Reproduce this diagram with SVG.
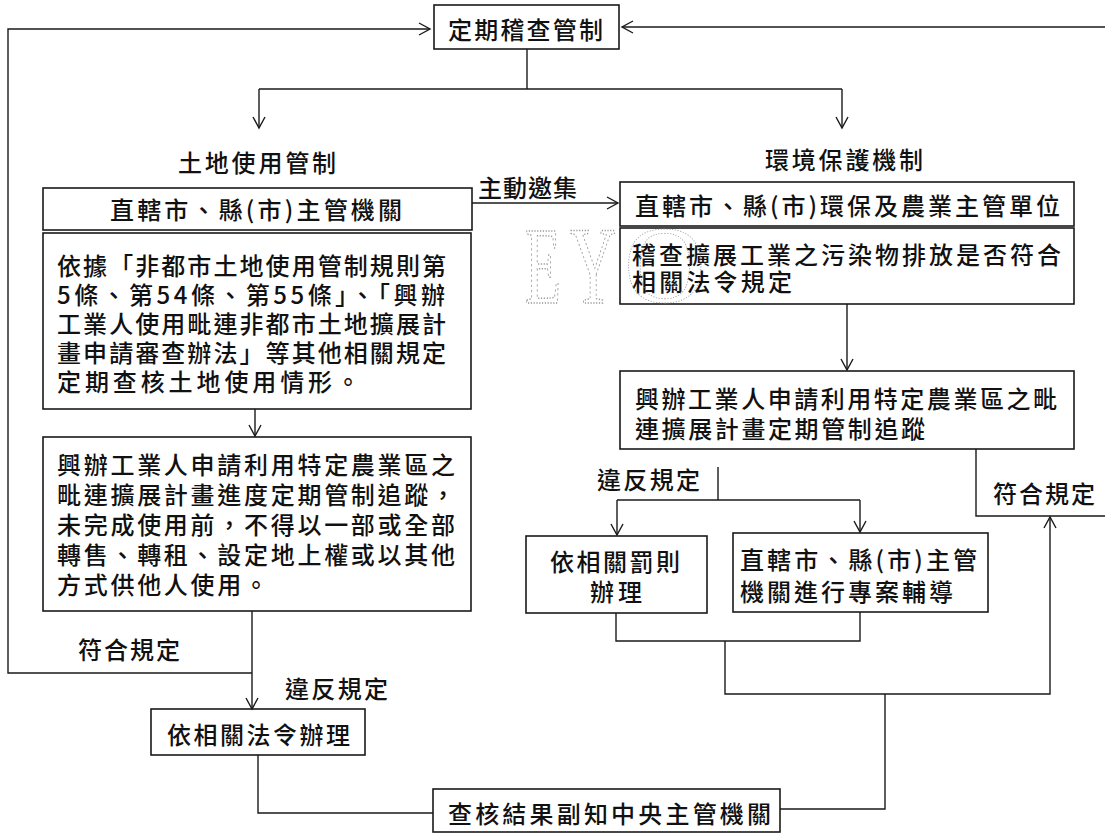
<svg xmlns="http://www.w3.org/2000/svg" width="1105" height="834" viewBox="0 0 1105 834">
<defs>
<style>
.box{fill:none;stroke:#1a1a1a;stroke-width:1.6}
.ln{fill:none;stroke:#1a1a1a;stroke-width:1.4}
.t{font-family:"Noto Sans CJK TC","Noto Sans CJK SC",sans-serif;font-size:24px;fill:#111;dominant-baseline:central;font-weight:500}
.wm{font-family:"Liberation Serif",serif;fill:none;stroke:#9a9a9a;stroke-width:0.8;stroke-dasharray:1.2 1.6}
</style>
<marker id="ar" markerUnits="userSpaceOnUse" markerWidth="14" markerHeight="16" refX="12" refY="7" orient="auto">
<path d="M1,1 L12,7 L1,13" fill="none" stroke="#1a1a1a" stroke-width="1.4"/>
</marker>
</defs>
<rect width="1105" height="834" fill="#fff"/>

<g id="connectors">
<polyline class="ln" points="252,673 8,673 8,29 430,29" marker-end="url(#ar)"/>
<line class="ln" x1="1105" y1="27" x2="622" y2="27" marker-end="url(#ar)"/>
<line class="ln" x1="527" y1="49" x2="527" y2="89"/>
<line class="ln" x1="259" y1="89" x2="842" y2="89"/>
<line class="ln" x1="259" y1="89" x2="259" y2="128" marker-end="url(#ar)"/>
<line class="ln" x1="842" y1="89" x2="842" y2="128" marker-end="url(#ar)"/>
<line class="ln" x1="472" y1="203" x2="618" y2="203" marker-end="url(#ar)"/>
<line class="ln" x1="255" y1="409" x2="255" y2="436" marker-end="url(#ar)"/>
<line class="ln" x1="252" y1="611" x2="252" y2="709" marker-end="url(#ar)"/>
<polyline class="ln" points="258,755 258,813 433,813"/>
<line class="ln" x1="847" y1="304" x2="847" y2="370" marker-end="url(#ar)"/>
<line class="ln" x1="718" y1="467" x2="718" y2="500"/>
<line class="ln" x1="617" y1="500" x2="860" y2="500"/>
<line class="ln" x1="617" y1="500" x2="617" y2="535" marker-end="url(#ar)"/>
<line class="ln" x1="860" y1="500" x2="860" y2="532" marker-end="url(#ar)"/>
<polyline class="ln" points="976,449 976,516 1105,516"/>
<polyline class="ln" points="616,613 616,641 860,641 860,612"/>
<polyline class="ln" points="725,641 725,694 1050,694 1050,517" marker-end="url(#ar)"/>
<polyline class="ln" points="885,694 885,809 780,809"/>
</g>

<g id="n-top">
<rect class="box" x="434" y="5" width="185" height="44"/>
<text class="t" x="448" y="28" textLength="155" lengthAdjust="spacing">定期稽查管制</text>
</g>

<g id="lbl-land">
<text class="t" x="178" y="161" textLength="158" lengthAdjust="spacing">土地使用管制</text>
</g>
<g id="lbl-env">
<text class="t" x="765" y="158" textLength="158" lengthAdjust="spacing">環境保護機制</text>
</g>
<g id="lbl-invite">
<text class="t" x="478" y="186" textLength="99" lengthAdjust="spacing">主動邀集</text>
</g>

<g id="n-left1">
<rect class="box" x="43" y="188" width="429" height="42"/>
<text class="t" x="110" y="208" textLength="292" lengthAdjust="spacing">直轄市、縣(市)主管機關</text>
</g>

<g id="n-left2">
<rect class="box" x="43" y="233" width="428" height="176"/>
<text class="t" x="57" y="264" textLength="389" lengthAdjust="spacing">依據「非都市土地使用管制規則第</text>
<text class="t" x="57" y="293" textLength="388" lengthAdjust="spacing">5條、第54條、第55條」、「興辦</text>
<text class="t" x="57" y="322" textLength="389" lengthAdjust="spacing">工業人使用毗連非都市土地擴展計</text>
<text class="t" x="57" y="351" textLength="389" lengthAdjust="spacing">畫申請審查辦法」等其他相關規定</text>
<text class="t" x="57" y="380" textLength="303" lengthAdjust="spacing">定期查核土地使用情形。</text>
</g>

<g id="n-left3">
<rect class="box" x="43" y="437" width="428" height="174"/>
<text class="t" x="57" y="463" textLength="398" lengthAdjust="spacing">興辦工業人申請利用特定農業區之</text>
<text class="t" x="57" y="493" textLength="398" lengthAdjust="spacing">毗連擴展計畫進度定期管制追蹤，</text>
<text class="t" x="57" y="523" textLength="398" lengthAdjust="spacing">未完成使用前，不得以一部或全部</text>
<text class="t" x="57" y="553" textLength="398" lengthAdjust="spacing">轉售、轉租、設定地上權或以其他</text>
<text class="t" x="57" y="583" textLength="211" lengthAdjust="spacing">方式供他人使用。</text>
</g>

<g id="lbl-ok-left">
<text class="t" x="78" y="648" textLength="102" lengthAdjust="spacing">符合規定</text>
</g>
<g id="lbl-bad-left">
<text class="t" x="285" y="687" textLength="103" lengthAdjust="spacing">違反規定</text>
</g>

<g id="n-law">
<rect class="box" x="151" y="709" width="214" height="46"/>
<text class="t" x="167" y="733" textLength="183" lengthAdjust="spacing">依相關法令辦理</text>
</g>

<g id="n-bottom">
<rect class="box" x="433" y="789" width="347" height="43"/>
<text class="t" x="448" y="812" textLength="323" lengthAdjust="spacing">查核結果副知中央主管機關</text>
</g>

<g id="n-right1">
<rect class="box" x="620" y="182" width="454" height="44"/>
<text class="t" x="635" y="204" textLength="425" lengthAdjust="spacing">直轄市、縣(市)環保及農業主管單位</text>
</g>

<g id="n-right2">
<rect class="box" x="620" y="228" width="454" height="76"/>
<text class="t" x="632" y="253" textLength="429" lengthAdjust="spacing">稽查擴展工業之污染物排放是否符合</text>
<text class="t" x="632" y="280" textLength="160" lengthAdjust="spacing">相關法令規定</text>
</g>

<g id="n-right3">
<rect class="box" x="620" y="371" width="454" height="78"/>
<text class="t" x="635" y="397" textLength="422" lengthAdjust="spacing">興辦工業人申請利用特定農業區之毗</text>
<text class="t" x="635" y="427" textLength="290" lengthAdjust="spacing">連擴展計畫定期管制追蹤</text>
</g>

<g id="lbl-ok-right">
<text class="t" x="993" y="492" textLength="102" lengthAdjust="spacing">符合規定</text>
</g>
<g id="lbl-bad-right">
<text class="t" x="597" y="478" textLength="103" lengthAdjust="spacing">違反規定</text>
</g>

<g id="n-penalty">
<rect class="box" x="526" y="536" width="181" height="77"/>
<text class="t" x="550" y="560" textLength="130" lengthAdjust="spacing">依相關罰則</text>
<text class="t" x="590" y="590" textLength="52" lengthAdjust="spacing">辦理</text>
</g>

<g id="n-guidance">
<rect class="box" x="733" y="533" width="255" height="79"/>
<text class="t" x="740" y="558" textLength="237" lengthAdjust="spacing">直轄市、縣(市)主管</text>
<text class="t" x="740" y="590" textLength="213" lengthAdjust="spacing">機關進行專案輔導</text>
</g>

<g id="watermark">
<text class="wm" font-size="59" transform="translate(525,303) scale(1,1.87)">E</text>
<text class="wm" font-size="64" transform="translate(570,303) scale(1,1.72)">Y</text>
<text class="wm" font-size="113" transform="translate(624,302) scale(1,0.97)">O</text>
</g>
</svg>
